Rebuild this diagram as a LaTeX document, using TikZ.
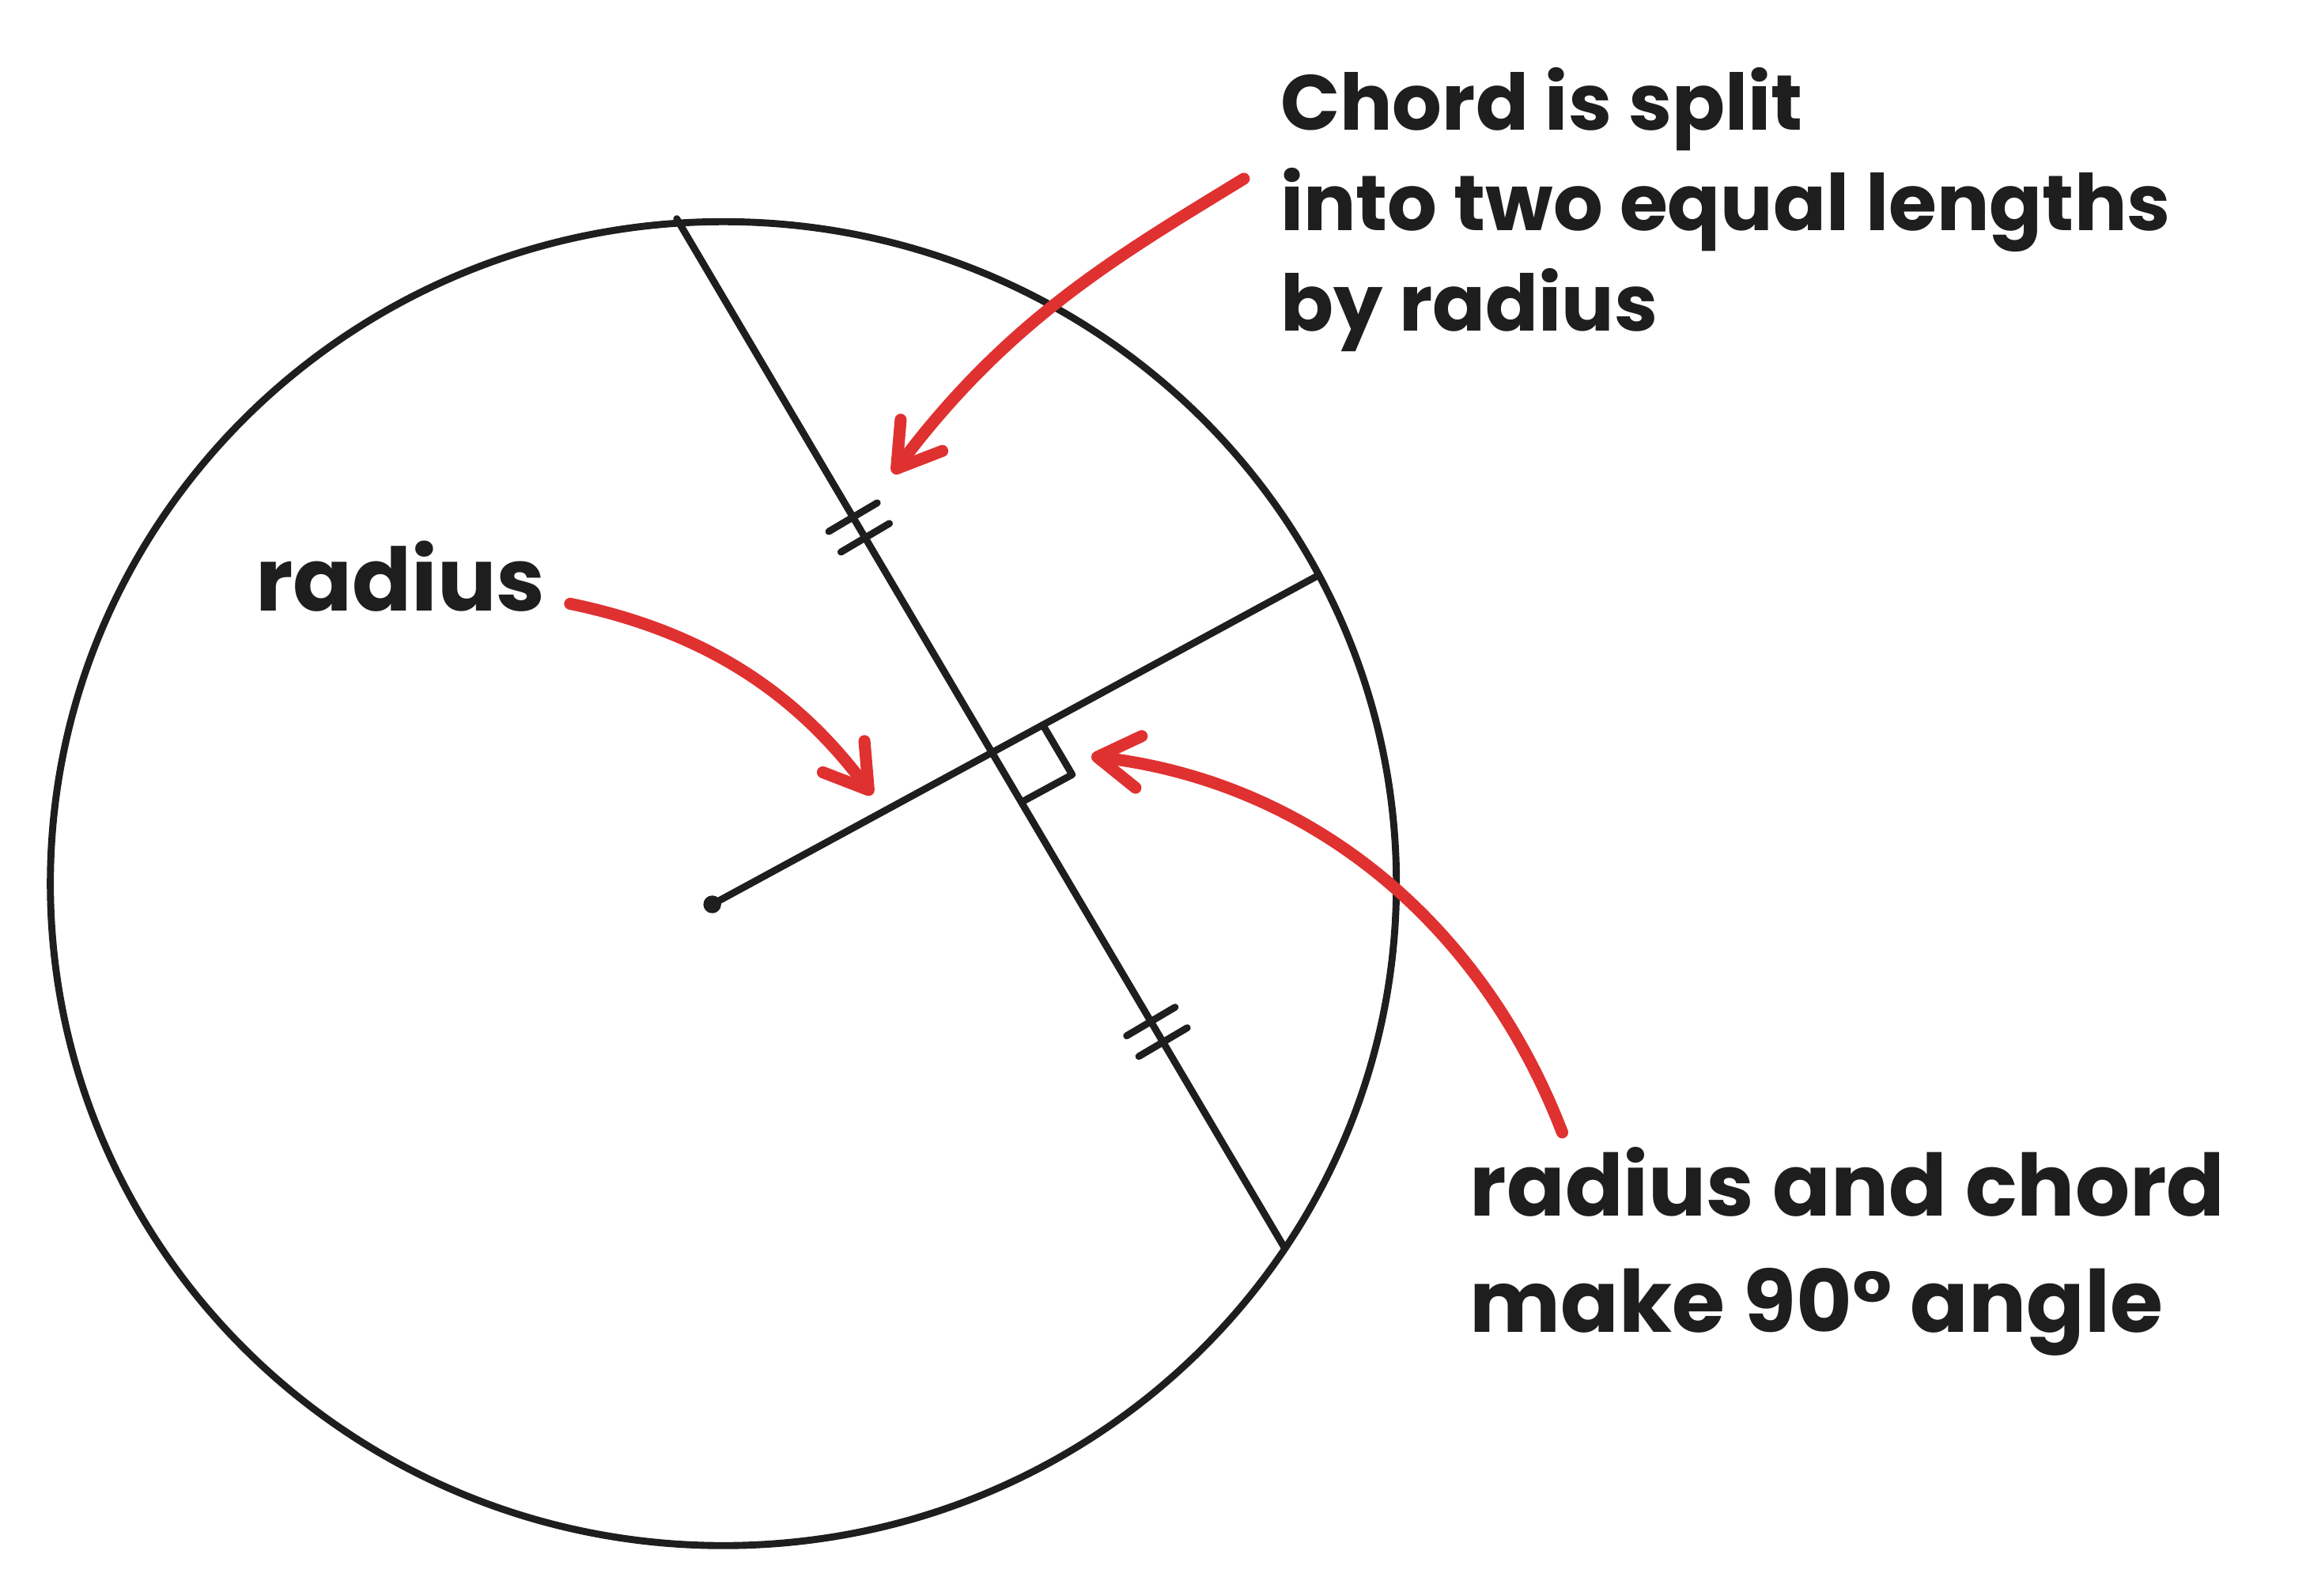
\documentclass[tikz,border=0pt]{standalone}
\usepackage{fontspec}
\setmainfont{Poppins}
\usetikzlibrary{arrows.meta,calc}
\definecolor{inkblack}{HTML}{1E1E1E}
\definecolor{inkred}{HTML}{E03131}
\tikzset{
  blackline/.style={draw=inkblack, line width=1.35pt, line cap=round, line join=round},
  redarrow/.style={draw=inkred, line width=2.3pt, line cap=round,
    -{Straight Barb[length=8pt,width=10pt,round]}},
  note/.style={inner sep=0pt, text=inkblack, align=left, anchor=north west}
}
\begin{document}
\begin{tikzpicture}
\useasboundingbox (0,0) rectangle (15.60,10.777);
\coordinate (O) at (4.885,4.81);
\coordinate (ctr) at (4.81,4.67);
\coordinate (rimR) at (8.90,6.89);
\coordinate (chordA) at (4.57,9.30);
\coordinate (chordB) at (8.675,2.35);
\draw[blackline] (O) ellipse (4.545 and 4.47);
\draw[blackline] (chordA) -- (chordB);
\draw[blackline] (ctr) -- (rimR);
\fill[inkblack] (ctr) circle (0.06);
\coordinate (foot) at (intersection of chordA--chordB and ctr--rimR);
\coordinate (sqR) at ($(foot)!0.39cm!(rimR)$);
\coordinate (sqB) at ($(foot)!0.39cm!(chordB)$);
\draw[blackline] (sqR) -- ($(sqR)+(sqB)-(foot)$) -- (sqB);
\foreach \p in {0.29,0.31,0.78,0.80}
  \draw[blackline] ($(chordA)!\p!(chordB)!0.19cm!90:(chordB)$) -- ($(chordA)!\p!(chordB)!0.19cm!-90:(chordB)$);

\node[note, font=\bfseries\fontsize{15}{19.3}\selectfont] (splitnote) at (8.64,10.33)
  {Chord is split\\into two equal lengths\\by radius};
\node[note, anchor=base west, font=\bfseries\fontsize{16.8}{21}\selectfont] (radiusnote) at (1.72,6.65) {radius};
\node[note, font=\bfseries\fontsize{16.5}{22.4}\selectfont] (anglenote) at (9.92,3.04)
  {radius and chord\\make 90° angle};

\coordinate (splittail) at (8.40,9.57);
\coordinate (splittip) at (6.03,7.58);
\coordinate (radiustail) at (3.85,6.70);
\coordinate (radiustip) at (5.89,5.41);
\coordinate (angletail) at (10.55,3.13);
\coordinate (angletip) at (7.37,5.67);
\draw[redarrow] (splittail) .. controls (7.55,9.05) and (6.81,8.62) .. (splittip);
\draw[redarrow] (radiustail) .. controls (4.82,6.50) and (5.41,6.05) .. (radiustip);
\draw[redarrow] (angletail) .. controls (10.01,4.53) and (8.87,5.49) .. (angletip);
\end{tikzpicture}
\end{document}
